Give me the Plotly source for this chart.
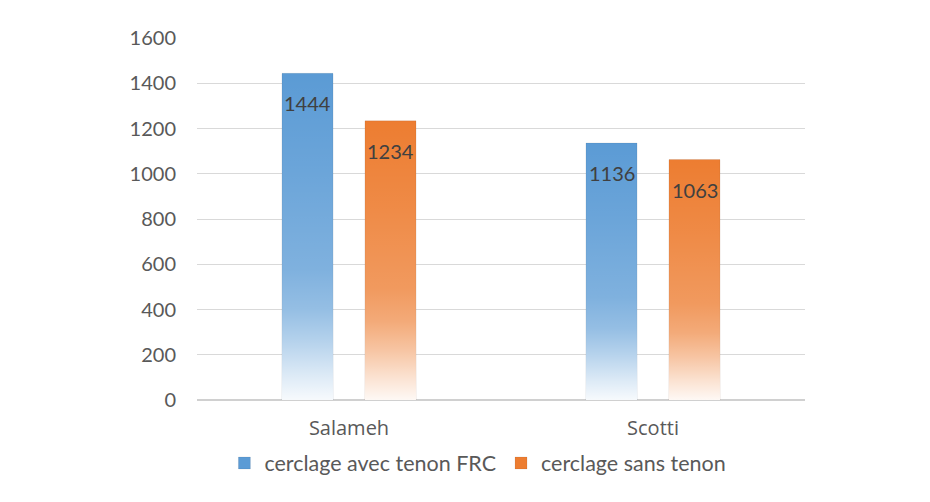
import plotly.graph_objects as go

# ---- data ----
categories = ["Salameh", "Scotti"]
series_names = ["cerclage avec tenon FRC", "cerclage sans tenon"]
values_frc = [1444, 1136]
values_sans = [1234, 1063]
y_tick_values = [0, 200, 400, 600, 800, 1000, 1200, 1400, 1600]

# ---- style ----
colors = ["#5B9BD5", "#ED7D31"]
FONT = "Lato"
CAT_FONT = "Open Sans"
bar_width = 0.168
centers_offset = [-0.1365, 0.1365]

# whitening overlay profile: position 0 = bar bottom, 1 = bar top
fade_scale = [
    [0.0, "rgba(255,255,255,0.95)"],
    [0.08, "rgba(255,255,255,0.78)"],
    [0.18, "rgba(255,255,255,0.55)"],
    [0.28, "rgba(255,255,255,0.35)"],
    [0.40, "rgba(255,255,255,0.22)"],
    [0.70, "rgba(255,255,255,0.10)"],
    [1.0, "rgba(255,255,255,0.0)"],
]

x_idx = list(range(len(categories)))
fig = go.Figure()

series = [values_frc, values_sans]
for s, (name, vals, col, off) in enumerate(zip(series_names, series, colors, centers_offset)):
    fig.add_trace(go.Bar(
        x=x_idx, y=vals, name=name,
        width=bar_width, offset=off - bar_width / 2,
        marker=dict(color=col, line=dict(color="rgba(0,0,0,0.07)", width=1)),
        hoverinfo="y",
    ))

# gradient overlays and labels, derived from the data
annotations = []
for s, (vals, off) in enumerate(zip(series, centers_offset)):
    for i, v in zip(x_idx, vals):
        xc = i + off
        x0, x1 = xc - bar_width / 2, xc + bar_width / 2
        fig.add_trace(go.Scatter(
            x=[x0, x1, x1, x0, x0], y=[0, 0, v, v, 0],
            mode="lines", line=dict(width=0), fill="toself",
            fillgradient=dict(type="vertical", colorscale=fade_scale, start=0, stop=v),
            showlegend=False, hoverinfo="skip",
        ))
        annotations.append(dict(
            x=xc, y=v, xref="x", yref="y", text=str(v), showarrow=False,
            yanchor="middle", yshift=-30,
            font=dict(family=FONT, size=20, color="#404040"),
        ))

fig.update_layout(
    width=930, height=502,
    margin=dict(l=189, r=133, t=30, b=110),
    paper_bgcolor="white", plot_bgcolor="white",
    barmode="overlay",
    showlegend=True,
    legend=dict(
        orientation="h", x=0.462, xanchor="center", y=-0.174, yanchor="middle",
        font=dict(family=FONT, size=21.5, color="#595959"),
        itemwidth=30, traceorder="normal",
    ),
    annotations=annotations,
    font=dict(family=FONT, size=20, color="#595959"),
)
fig.update_xaxes(
    range=[-0.5, 1.5], tickmode="array", tickvals=x_idx, ticktext=categories,
    showgrid=False, zeroline=False, showline=False, ticks="",
    tickfont=dict(family=CAT_FONT, size=20, color="#595959"),
    ticklabelstandoff=14,
)
fig.update_yaxes(
    range=[0, 1600], tickmode="array", tickvals=y_tick_values,
    showgrid=True, gridcolor="#D9D9D9", gridwidth=1,
    zeroline=True, zerolinecolor="#D0D0D0", zerolinewidth=2,
    showline=False, ticks="",
    tickfont=dict(family=FONT, size=20, color="#595959"),
    ticklabelstandoff=20,
)

fig.write_html("out.html")
